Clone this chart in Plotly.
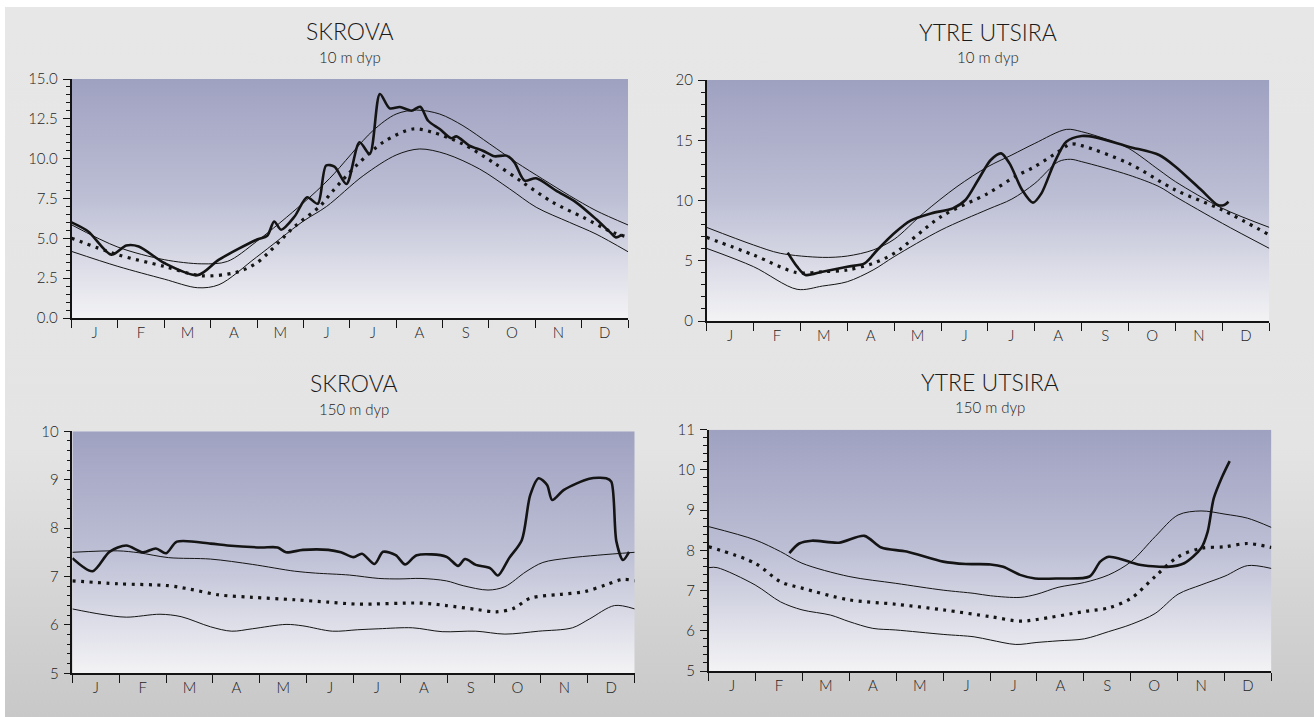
import base64
import plotly.graph_objects as go

# ---------------------------------------------------------------- data
MONTHS = ["J", "F", "M", "A", "M", "J", "J", "A", "S", "O", "N", "D"]

# Skrova, 10 m depth  (x = months since 1 Jan, y = temperature °C)
SK10_MAX_X = [0, 1.0, 2.0, 2.81, 3.36, 3.99, 4.99, 5.57, 6.5, 7.0, 7.44, 7.94, 8.44, 9.02, 9.59, 10.16, 10.74, 11.31, 12.0]
SK10_MAX_Y = [5.85, 4.45, 3.66, 3.4, 3.55, 4.8, 7.2, 8.77, 11.76, 12.8, 13.05, 12.8, 12.07, 10.92, 9.77, 8.72, 7.68, 6.74, 5.84]
SK10_MIN_X = [0, 1.0, 2.0, 2.72, 3.18, 3.99, 4.99, 5.5, 6.29, 7.0, 7.51, 8.08, 8.8, 9.45, 10.02, 10.74, 11.31, 12.0]
SK10_MIN_Y = [4.18, 3.24, 2.44, 1.9, 2.09, 3.82, 6.06, 7.0, 8.93, 10.23, 10.61, 10.29, 9.35, 8.1, 6.95, 6.0, 5.27, 4.16]
SK10_MEAN_X = [0, 1.0, 2.0, 2.81, 3.54, 3.99, 4.81, 5.35, 5.64, 6.14, 6.72, 7.36, 7.79, 8.44, 9.09, 9.73, 10.38, 11.03, 11.67, 12.0]
SK10_MEAN_Y = [5.01, 3.97, 3.24, 2.65, 2.86, 3.45, 5.74, 7.0, 7.99, 9.56, 11.03, 11.86, 11.65, 10.92, 9.77, 8.51, 7.26, 6.32, 5.38, 5.08]
SK10_YEAR_X = [0, 0.36, 0.86, 1.18, 1.45, 2.0, 2.72, 3.18, 3.99, 4.22, 4.37, 4.52, 4.81, 5.08, 5.31, 5.49,
               5.67, 5.93, 6.21, 6.43, 6.65, 6.86, 7.08, 7.33, 7.52, 7.69, 7.94, 8.19, 8.30, 8.58, 8.87,
               9.12, 9.38, 9.55, 9.77, 10.02, 10.45, 10.88, 11.31, 11.60, 11.74, 11.87]
SK10_YEAR_Y = [6.0, 5.43, 3.97, 4.55, 4.49, 3.45, 2.69, 3.66, 4.91, 5.16, 6.06, 5.54, 6.37, 7.58, 7.17, 9.57,
               9.5, 8.41, 11.03, 10.29, 14.06, 13.16, 13.24, 13.01, 13.26, 12.38, 11.86, 11.28, 11.40, 10.82, 10.5,
               10.15, 10.19, 9.77, 8.62, 8.77, 7.99, 7.26, 6.21, 5.42, 5.06, 5.23]

# Ytre Utsira, 10 m depth
UT10_MAX_X = [0, 1.0, 1.57, 2.47, 3.0, 3.55, 4.0, 4.62, 5.34, 6.0, 6.51, 7.0, 7.67, 8.0, 8.57, 9.0, 9.65, 10.0, 11.0, 12.0]
UT10_MAX_Y = [7.77, 6.31, 5.62, 5.28, 5.39, 5.89, 6.78, 8.94, 11.15, 12.81, 13.78, 14.74, 15.9, 15.71, 15.02, 14.33, 12.53, 11.56, 9.35, 7.77]
UT10_MIN_X = [0, 1.0, 1.93, 2.47, 3.0, 3.55, 4.0, 5.0, 6.0, 6.51, 7.0, 7.5, 7.76, 8.0, 9.0, 9.65, 10.0, 11.0, 12.0]
UT10_MIN_Y = [6.03, 4.51, 2.63, 2.9, 3.26, 4.23, 5.34, 7.55, 9.27, 10.12, 11.42, 13.22, 13.42, 13.22, 12.12, 11.15, 10.32, 8.1, 6.03]
UT10_MEAN_X = [0, 1.0, 1.93, 2.47, 3.0, 3.55, 4.0, 5.0, 6.0, 6.6, 7.0, 7.5, 7.76, 8.0, 9.0, 10.0, 11.0, 12.0]
UT10_MEAN_Y = [6.94, 5.48, 4.01, 4.09, 4.23, 4.79, 5.62, 8.66, 10.59, 12.03, 12.81, 14.05, 14.69, 14.55, 13.08, 10.87, 9.21, 7.14]
UT10_YEAR_X = [1.73, 1.93, 2.11, 2.47, 3.0, 3.37, 3.64, 4.0, 4.35, 4.8, 5.25, 5.52, 5.79, 6.06, 6.28, 6.46,
               6.73, 6.96, 7.14, 7.41, 7.67, 8.0, 8.3, 9.0, 9.65, 10.0, 10.55, 10.9, 11.04, 11.13]
UT10_YEAR_Y = [5.67, 4.51, 3.82, 4.09, 4.51, 4.79, 5.89, 7.28, 8.33, 8.94, 9.35, 10.04, 11.7, 13.36, 13.91, 13.08,
               10.87, 9.82, 10.59, 13.08, 14.88, 15.35, 15.24, 14.47, 13.78, 12.81, 10.87, 9.63, 9.63, 9.9]

# Skrova, 150 m depth
SK150_MAX_X = [0, 0.97, 1.42, 2.05, 2.95, 3.84, 4.74, 5.19, 5.91, 6.54, 6.99, 7.44, 7.98, 8.34, 8.87, 9.23, 9.68, 10.04, 10.58, 11.21, 12.0]
SK150_MAX_Y = [7.5, 7.53, 7.49, 7.39, 7.36, 7.25, 7.11, 7.07, 7.03, 6.96, 6.95, 6.96, 6.91, 6.81, 6.72, 6.79, 7.10, 7.29, 7.38, 7.44, 7.5]
SK150_MIN_X = [0, 0.61, 1.15, 1.87, 2.32, 2.95, 3.40, 3.84, 4.56, 4.92, 5.55, 6.09, 6.54, 7.26, 7.89, 8.61, 9.23, 9.95, 10.67, 11.03, 11.57, 12.0]
SK150_MIN_Y = [6.33, 6.22, 6.16, 6.22, 6.17, 5.96, 5.87, 5.92, 6.01, 5.98, 5.87, 5.9, 5.92, 5.94, 5.86, 5.87, 5.81, 5.87, 5.94, 6.12, 6.4, 6.33]
SK150_MEAN_X = [0, 0.97, 2.05, 2.50, 3.13, 3.84, 4.74, 5.46, 6.09, 7.44, 7.98, 8.61, 9.05, 9.41, 9.77, 10.40, 10.94, 11.39, 11.75, 12.0]
SK150_MEAN_Y = [6.91, 6.85, 6.81, 6.74, 6.62, 6.57, 6.52, 6.47, 6.43, 6.45, 6.40, 6.32, 6.27, 6.34, 6.55, 6.63, 6.69, 6.83, 6.94, 6.91]
SK150_YEAR_X = [0, 0.43, 0.79, 1.15, 1.51, 1.78, 2.0, 2.23, 2.95, 3.31, 4.02, 4.38, 4.56, 4.92, 5.46, 5.73,
                6.0, 6.18, 6.45, 6.63, 6.9, 7.10, 7.35, 7.98, 8.23, 8.38, 8.61, 8.92, 9.08, 9.32, 9.59,
                9.77, 9.95, 10.13, 10.24, 10.49, 11.03, 11.39, 11.5, 11.61, 11.75, 11.88]
SK150_YEAR_Y = [7.38, 7.11, 7.51, 7.64, 7.5, 7.58, 7.48, 7.72, 7.68, 7.64, 7.6, 7.6, 7.5, 7.55, 7.55, 7.5,
                7.40, 7.47, 7.26, 7.51, 7.44, 7.25, 7.44, 7.41, 7.22, 7.36, 7.24, 7.17, 7.02, 7.38, 7.75,
                8.68, 9.03, 8.89, 8.58, 8.79, 9.02, 9.03, 8.96, 7.72, 7.34, 7.51]

# Ytre Utsira, 150 m depth
UT150_MAX_X = [0, 0.99, 1.53, 1.99, 2.99, 3.99, 5.0, 5.66, 6.01, 6.64, 7.0, 7.45, 8.01, 8.53, 9.01, 9.52, 10.01, 10.5, 11.01, 11.49, 12.0]
UT150_MAX_Y = [8.59, 8.26, 7.97, 7.68, 7.35, 7.18, 7.01, 6.93, 6.87, 6.83, 6.91, 7.08, 7.2, 7.39, 7.72, 8.34, 8.88, 8.98, 8.9, 8.8, 8.57]
UT150_MIN_X = [0, 0.18, 0.99, 1.53, 1.99, 2.6, 2.99, 3.5, 3.99, 5.0, 5.66, 6.01, 6.55, 7.0, 7.45, 8.01, 8.53, 9.01, 9.52, 10.01, 10.5, 11.01, 11.49, 12.0]
UT150_MIN_Y = [7.57, 7.57, 7.14, 6.72, 6.52, 6.39, 6.23, 6.06, 6.02, 5.91, 5.85, 5.77, 5.66, 5.71, 5.75, 5.8, 5.98, 6.16, 6.43, 6.91, 7.14, 7.36, 7.62, 7.55]
UT150_MEAN_X = [0, 0.99, 1.53, 1.99, 2.99, 3.99, 5.0, 6.01, 6.64, 7.0, 8.01, 8.53, 9.01, 9.52, 10.01, 10.5, 11.01, 11.49, 12.0]
UT150_MEAN_Y = [8.09, 7.68, 7.22, 7.06, 6.77, 6.66, 6.52, 6.35, 6.24, 6.28, 6.48, 6.57, 6.81, 7.35, 7.84, 8.05, 8.09, 8.17, 8.07]
UT150_YEAR_X = [1.72, 1.93, 2.2, 2.78, 3.32, 3.68, 4.22, 5.0, 5.48, 6.01, 6.28, 6.64, 6.96, 7.45, 8.12, 8.35,
                8.53, 8.8, 9.16, 9.78, 10.14, 10.5, 10.64, 10.77, 10.95, 11.11]
UT150_YEAR_Y = [7.93, 8.17, 8.24, 8.19, 8.36, 8.07, 7.97, 7.72, 7.66, 7.65, 7.59, 7.39, 7.30, 7.30, 7.35, 7.72,
                7.84, 7.78, 7.65, 7.59, 7.68, 8.05, 8.46, 9.29, 9.83, 10.22]

TITLES = ["SKROVA", "YTRE UTSIRA", "SKROVA", "YTRE UTSIRA"]
SUBTITLES = ["10 m dyp", "10 m dyp", "150 m dyp", "150 m dyp"]

# ---------------------------------------------------------------- style
W, H = 1314, 717
FONT = "Lato, 'Open Sans', sans-serif"
INK = "#141414"
TXT = "#1e1e1e"


def gradient_uri(stops, w=100, h=100, inset=None):
    """Vertical linear gradient as an SVG data URI."""
    st = "".join(f"<stop offset='{o}' stop-color='{c}'/>" for o, c in stops)
    if inset:
        x0, y0 = inset
        body = (f"<rect width='{w}' height='{h}' fill='#ffffff'/>"
                f"<rect x='{x0}' y='{y0}' width='{w - x0}' height='{h - y0}' fill='url(#g)'/>")
    else:
        body = f"<rect width='{w}' height='{h}' fill='url(#g)'/>"
    svg = (f"<svg xmlns='http://www.w3.org/2000/svg' width='{w}' height='{h}' "
           f"viewBox='0 0 {w} {h}' preserveAspectRatio='none'>"
           f"<defs><linearGradient id='g' x1='0' y1='0' x2='0' y2='1'>{st}</linearGradient></defs>"
           f"{body}</svg>")
    return "data:image/svg+xml;base64," + base64.b64encode(svg.encode()).decode()


PANEL_BG = gradient_uri([(0, "#9fa1c1"), (0.5, "#bdbfd5"), (1, "#f3f3f5")])
PAGE_BG = gradient_uri([(0, "#e7e7e7"), (0.62, "#e4e4e4"), (1, "#c8c8c8")], w=W, h=H, inset=(5, 7))

# plot-area boxes in pixels: left, right, top, bottom
BOXES = [(71.5, 628, 79, 318), (706.6, 1269.3, 80, 321),
         (72.4, 634.7, 431.3, 673.3), (708.7, 1271.4, 429.7, 671)]
Y_AXES = [dict(range=[0, 15], dtick=2.5, minor=0.5, fmt=".1f"),
          dict(range=[0, 20], dtick=5, minor=1, fmt="d"),
          dict(range=[5, 10], dtick=1, minor=0.2, fmt="d"),
          dict(range=[5, 11], dtick=1, minor=0.2, fmt="d")]

PANELS = [
    (SK10_MAX_X, SK10_MAX_Y, SK10_MIN_X, SK10_MIN_Y, SK10_MEAN_X, SK10_MEAN_Y, SK10_YEAR_X, SK10_YEAR_Y),
    (UT10_MAX_X, UT10_MAX_Y, UT10_MIN_X, UT10_MIN_Y, UT10_MEAN_X, UT10_MEAN_Y, UT10_YEAR_X, UT10_YEAR_Y),
    (SK150_MAX_X, SK150_MAX_Y, SK150_MIN_X, SK150_MIN_Y, SK150_MEAN_X, SK150_MEAN_Y, SK150_YEAR_X, SK150_YEAR_Y),
    (UT150_MAX_X, UT150_MAX_Y, UT150_MIN_X, UT150_MIN_Y, UT150_MEAN_X, UT150_MEAN_Y, UT150_YEAR_X, UT150_YEAR_Y),
]

fig = go.Figure()
images = [dict(source=PAGE_BG, xref="paper", yref="paper", x=0, y=1, sizex=1, sizey=1,
               xanchor="left", yanchor="top", sizing="stretch", layer="below")]
annotations = []
layout_axes = {}
tick_font = dict(family=FONT, size=15, weight=300, color=TXT)

for i, (series, box, ya, title, sub) in enumerate(zip(PANELS, BOXES, Y_AXES, TITLES, SUBTITLES)):
    n = "" if i == 0 else str(i + 1)
    xr, yr = f"x{n}", f"y{n}"
    mx, my, nx, ny, ax, ay, yx, yy = series

    thin = dict(color=INK, width=1, shape="spline", smoothing=0.9)
    fig.add_trace(go.Scatter(x=mx, y=my, mode="lines", line=thin, xaxis=xr, yaxis=yr,
                             showlegend=False, hoverinfo="skip"))
    fig.add_trace(go.Scatter(x=nx, y=ny, mode="lines", line=thin, xaxis=xr, yaxis=yr,
                             showlegend=False, hoverinfo="skip"))
    fig.add_trace(go.Scatter(x=ax, y=ay, mode="lines", xaxis=xr, yaxis=yr, showlegend=False,
                             line=dict(color=INK, width=3.2, dash="3px,5.5px", shape="spline", smoothing=0.9),
                             hoverinfo="skip"))
    fig.add_trace(go.Scatter(x=yx, y=yy, mode="lines", xaxis=xr, yaxis=yr, showlegend=False,
                             line=dict(color=INK, width=2.6, shape="spline", smoothing=0.8),
                             hoverinfo="skip"))

    left, right, top, bottom = box
    layout_axes[f"xaxis{n}"] = dict(
        domain=[left / W, right / W], anchor=yr, range=[0, 12], fixedrange=True, automargin=False,
        tickvals=[m + 0.5 for m in range(12)], ticktext=MONTHS, ticks="",
        ticklabelstandoff=0, tickfont=tick_font,
        showline=True, linecolor=INK, linewidth=1.5, showgrid=False, zeroline=False,
        minor=dict(ticks="outside", tick0=0, dtick=1, ticklen=8, tickwidth=1.4,
                   tickcolor=INK, showgrid=False),
    )
    layout_axes[f"yaxis{n}"] = dict(
        domain=[1 - bottom / H, 1 - top / H], anchor=xr, range=ya["range"], fixedrange=True,
        automargin=False, tick0=ya["range"][0], dtick=ya["dtick"], tickformat=ya["fmt"],
        ticks="outside", ticklen=7, tickwidth=1.4, tickcolor=INK,
        ticklabelstandoff=2, tickfont=tick_font,
        showline=True, linecolor=INK, linewidth=1.5, showgrid=False, zeroline=False,
        minor=dict(ticks="outside", dtick=ya["minor"], ticklen=4, tickwidth=1.2,
                   tickcolor=INK, showgrid=False),
    )
    images.append(dict(source=PANEL_BG, xref=f"{xr} domain", yref=f"{yr} domain",
                       x=0, y=1, sizex=1, sizey=1, xanchor="left", yanchor="top",
                       sizing="stretch", layer="below"))

    cx = (left + right) / 2 / W
    annotations.append(dict(text=title, x=cx, y=1 - (top - 48) / H, xref="paper", yref="paper",
                            xanchor="center", yanchor="middle", showarrow=False,
                            font=dict(family=FONT, size=23, weight=300, color="#1a1a1a")))
    annotations.append(dict(text=sub, x=cx, y=1 - (top - 22.5) / H, xref="paper", yref="paper",
                            xanchor="center", yanchor="middle", showarrow=False,
                            font=dict(family=FONT, size=15, weight=300, color="#222222")))

fig.update_layout(
    width=W, height=H, margin=dict(l=0, r=0, t=0, b=0, pad=0, autoexpand=False),
    paper_bgcolor="#e6e6e6", plot_bgcolor="rgba(0,0,0,0)",
    images=images, annotations=annotations, showlegend=False,
    **layout_axes,
)

fig.write_html("out.html")
